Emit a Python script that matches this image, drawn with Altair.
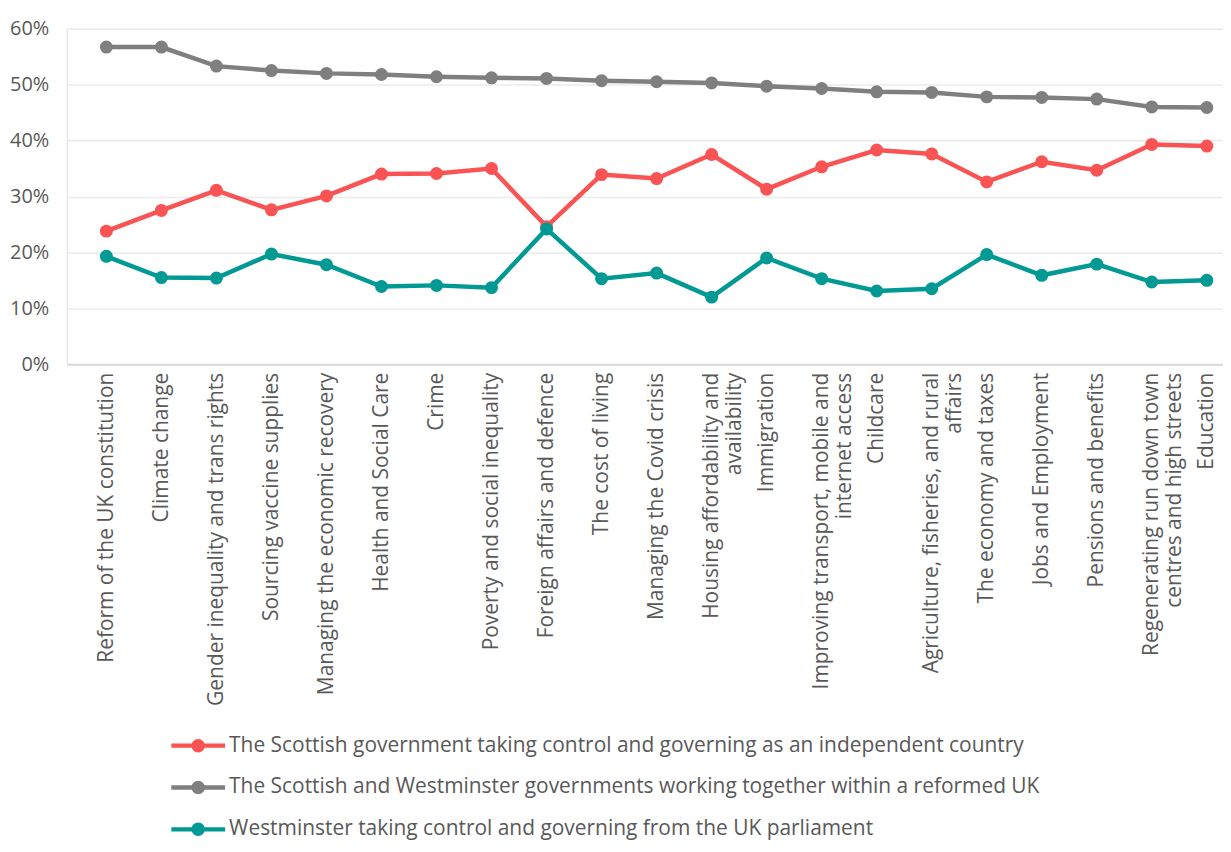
import altair as alt
import pandas as pd

categories = [
    "Reform of the UK constitution",
    "Climate change",
    "Gender inequality and trans rights",
    "Sourcing vaccine supplies",
    "Managing the economic recovery",
    "Health and Social Care",
    "Crime",
    "Poverty and social inequality",
    "Foreign affairs and defence",
    "The cost of living",
    "Managing the Covid crisis",
    "Housing affordability and|availability",
    "Immigration",
    "Improving transport, mobile and|internet access",
    "Childcare",
    "Agriculture, fisheries, and rural|affairs",
    "The economy and taxes",
    "Jobs and Employment",
    "Pensions and benefits",
    "Regenerating run down town|centres and high streets",
    "Education",
]

series_names = [
    "The Scottish government taking control and governing as an independent country",
    "The Scottish and Westminster governments working together within a reformed UK",
    "Westminster taking control and governing from the UK parliament",
]

independent = [23.8, 27.5, 31.1, 27.6, 30.1, 34.0, 34.1, 35.0, 24.6, 33.9, 33.2,
               37.5, 31.3, 35.3, 38.3, 37.6, 32.6, 36.2, 34.7, 39.3, 39.0]
reformed_uk = [56.7, 56.7, 53.3, 52.5, 52.0, 51.8, 51.4, 51.2, 51.1, 50.7, 50.5,
               50.3, 49.7, 49.3, 48.7, 48.6, 47.8, 47.7, 47.4, 46.0, 45.9]
westminster = [19.3, 15.5, 15.4, 19.7, 17.8, 13.9, 14.1, 13.7, 24.2, 15.3, 16.3,
               12.0, 19.0, 15.3, 13.1, 13.5, 19.6, 15.9, 17.9, 14.7, 15.0]

colors = ["#F95353", "#7F7F7F", "#009994"]

rows = []
for name, vals in zip(series_names, [independent, reformed_uk, westminster]):
    for c, v in zip(categories, vals):
        rows.append({"category": c, "series": name, "value": v})
df = pd.DataFrame(rows)

FONT = "Open Sans"
TEXT = "#595959"

legend_symbol = ("M-1,-0.08L1,-0.08L1,0.08L-1,0.08Z "
                 "M0.25,0A0.25,0.25 0 1,1 -0.25,0A0.25,0.25 0 1,1 0.25,0Z")

x_enc = alt.X(
    "category:N",
    sort=categories,
    scale=alt.Scale(type="point", padding=0.507, align=0.71),
    axis=alt.Axis(
        title=None,
        labelAngle=270,
        labelAlign="right",
        labelBaseline="middle",
        labelExpr="split(datum.label, '|')",
        labelLineHeight=23,
        labelPadding=8,
        labelLimit=600,
        labelFontSize=21,
        labelFont=FONT,
        labelColor=TEXT,
        ticks=False,
        domain=True,
        domainColor="#d9d9d9",
        domainWidth=2,
        grid=False,
    ),
)
y_enc = alt.Y(
    "value:Q",
    scale=alt.Scale(domain=[0, 60], nice=False),
    axis=alt.Axis(
        title=None,
        values=[0, 10, 20, 30, 40, 50, 60],
        labelExpr="datum.value + '%'",
        labelFontSize=20,
        labelFont=FONT,
        labelColor=TEXT,
        labelPadding=18,
        ticks=False,
        domain=False,
        grid=True,
        gridColor="#ebebeb",
        gridWidth=1.5,
    ),
)

legend = alt.Legend(
    title=None,
    orient="none",
    legendX=105,
    legendY=693,
    direction="vertical",
    symbolType=legend_symbol,
    symbolSize=2916,
    symbolStrokeWidth=0,
    symbolOpacity=1,
    labelFontSize=21,
    labelFont=FONT,
    labelColor=TEXT,
    labelLimit=1000,
    labelOffset=4,
    rowPadding=5,
)

color_enc = alt.Color("series:N", scale=alt.Scale(domain=series_names, range=colors),
                      sort=series_names, legend=legend)

lines = alt.Chart(df).mark_line(strokeWidth=4.5).encode(
    x=x_enc,
    y=y_enc,
    color=color_enc,
)

points = alt.Chart(df).mark_circle(size=170, opacity=1).encode(
    x=x_enc,
    y=y_enc,
    color=color_enc,
)

chart = (
    alt.layer(lines, points)
    .properties(
        width=1161,
        height=337,
        autosize=alt.AutoSizeParams(type="none"),
        padding={"left": 59, "top": 19, "right": 0, "bottom": 480},
    )
    .configure_view(stroke=None)
    .configure(background="white")
)

chart.save("out.html", embed_options={"renderer": "svg", "actions": False})
